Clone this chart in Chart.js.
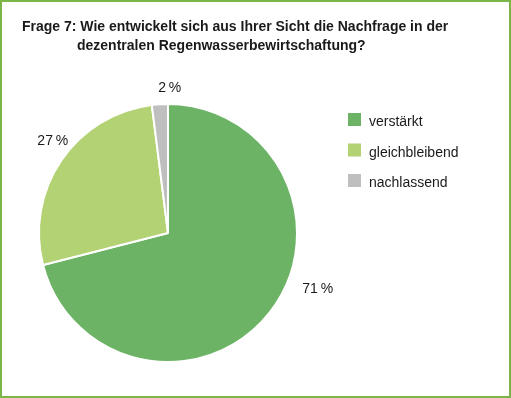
<!DOCTYPE html>
<html>
<head>
<meta charset="utf-8">
<script src="https://cdn.jsdelivr.net/npm/chart.js@4/dist/chart.umd.min.js"></script>
<style>
  html, body { margin: 0; padding: 0; background: #fff; }
  #wrap { width: 511px; height: 398px; }
</style>
</head>
<body>
<div id="wrap"><canvas id="chart" width="511" height="398"></canvas></div>
<script>
const categories = ['verstärkt', 'gleichbleibend', 'nachlassend'];
const values = [71, 27, 2];
const sliceColors = ['#6db366', '#b2d274', '#bfbfbf'];
const titleLines = ['Frage 7: Wie entwickelt sich aus Ihrer Sicht die Nachfrage in der',
                    'dezentralen Regenwasserbewirtschaftung?'];

// label nudges (Excel "best fit" does not sit exactly on the bisector)
const labelShift = [[32, -35], [8, -8], [11, 4]];

const decor = {
  id: 'decor',
  afterDraw(chart) {
    const ctx = chart.ctx;
    ctx.save();
    // frame
    ctx.strokeStyle = '#7ab648';
    ctx.lineWidth = 2;
    ctx.strokeRect(1, 1, chart.width - 2, chart.height - 2);

    // title
    ctx.fillStyle = '#1a1a1a';
    ctx.font = 'bold 14px "Liberation Sans", Arial, sans-serif';
    ctx.textBaseline = 'alphabetic';
    ctx.textAlign = 'left';
    ctx.fillText(titleLines[0], 22, 31);
    ctx.fillText(titleLines[1], 77, 50);

    // legend
    ctx.font = '14px "Liberation Sans", Arial, sans-serif';
    categories.forEach((c, i) => {
      const y = 113 + i * 30.5;
      ctx.fillStyle = sliceColors[i];
      ctx.fillRect(348, y, 13, 13);
      ctx.fillStyle = '#1a1a1a';
      ctx.fillText(c, 369, y + 13);
    });

    // percentage labels
    const meta = chart.getDatasetMeta(0);
    ctx.textAlign = 'center';
    ctx.textBaseline = 'middle';
    meta.data.forEach((arc, i) => {
      const mid = (arc.startAngle + arc.endAngle) / 2;
      const r = arc.outerRadius + 20;
      const x = arc.x + Math.cos(mid) * r + labelShift[i][0];
      const y = arc.y + Math.sin(mid) * r + labelShift[i][1];
      ctx.fillStyle = '#1a1a1a';
      ctx.fillText(values[i] + '\u2009%', x, y);
    });
    ctx.restore();
  }
};

new Chart(document.getElementById('chart').getContext('2d'), {
  type: 'pie',
  data: {
    labels: categories,
    datasets: [{
      data: values,
      backgroundColor: sliceColors,
      borderColor: '#ffffff',
      borderWidth: 2,
      hoverOffset: 0
    }]
  },
  options: {
    responsive: false,
    animation: false,
    layout: { padding: { left: 38, right: 213, top: 103, bottom: 35 } },
    plugins: {
      legend: { display: false },
      title: { display: false },
      tooltip: { enabled: false }
    }
  },
  plugins: [decor]
});
</script>
</body>
</html>
